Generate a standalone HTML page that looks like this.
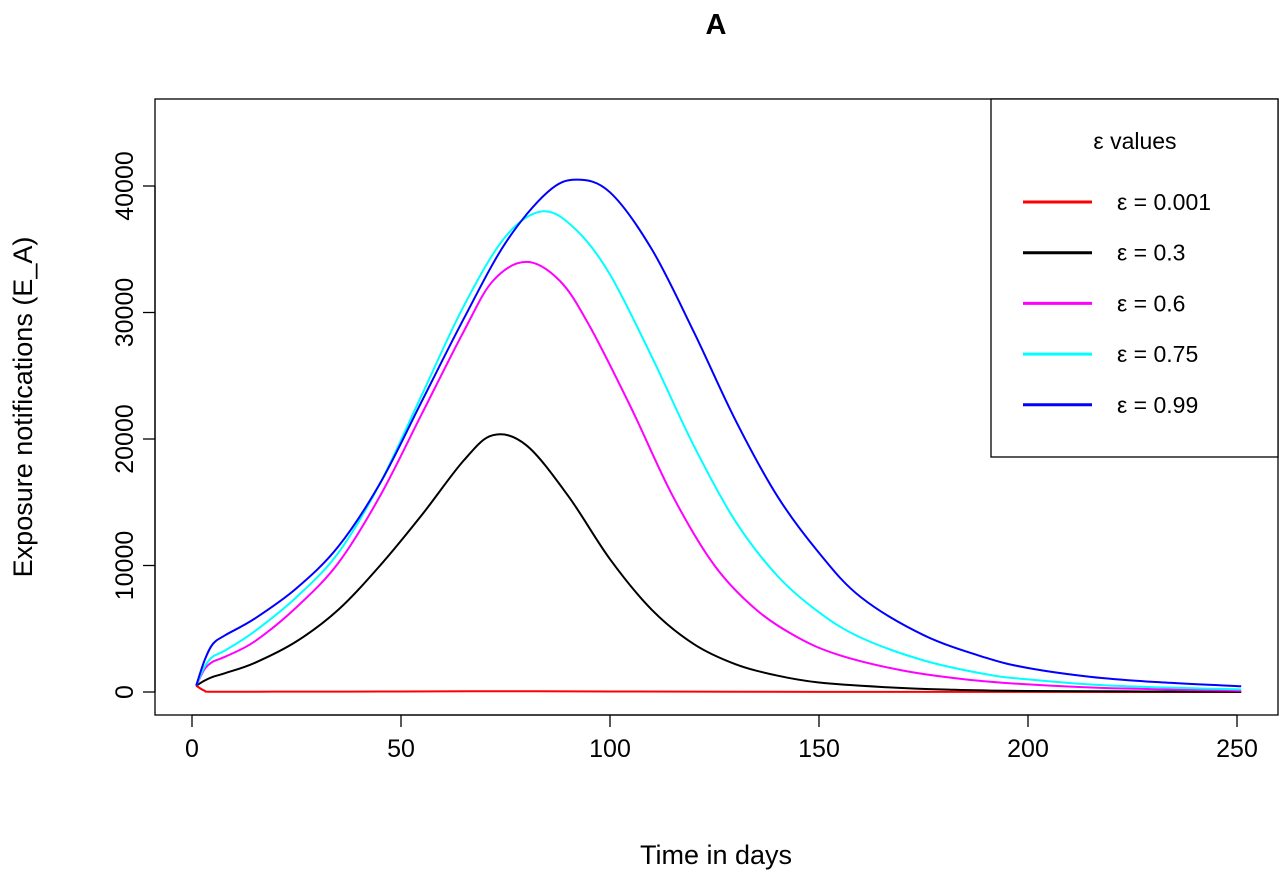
<!DOCTYPE html>
<html><head><meta charset="utf-8"><style>
body{margin:0;background:#fff;}
svg text{font-family:"Liberation Sans",sans-serif;}
</style></head><body>
<svg id="chart" width="1286" height="877" xmlns="http://www.w3.org/2000/svg">
<text x="716" y="34" font-size="29" font-weight="bold" text-anchor="middle">A</text>
<rect x="155" y="99" width="1123" height="616" fill="none" stroke="#000" stroke-width="1.3"/>
<g id="xaxis"></g>
<g id="yaxis"></g>
<text x="716" y="864" font-size="27" text-anchor="middle">Time in days</text>
<text transform="translate(32,407) rotate(-90)" font-size="27" text-anchor="middle">Exposure notifications (E_A)</text>
<g id="lines"></g>
<g>
<rect x="991" y="99" width="287" height="358" fill="#fff" stroke="#000" stroke-width="1.3"/>
<text x="1135" y="149" font-size="23" text-anchor="middle">ε values</text>
<g id="legend-entries"></g>
</g>
</svg>
<script>
const xTicks=[0,50,100,150,200,250];
const yTicks=[0,10000,20000,30000,40000];
const seriesNames=["ε = 0.001","ε = 0.3","ε = 0.6","ε = 0.75","ε = 0.99"];
const seriesColors=["#ff0000","#000000","#ff00ff","#00ffff","#0000ff"];
const redDays=[1,3,5,20,50,75,100,150,200,251];
const redVals=[500,100,20,25,40,60,40,10,5,0];
const blackDays=[1,3,5,8,15,25,35,45,55,65,72,80,90,100,110,120,130,140,150,165,180,200,251];
const blackVals=[500,900,1200,1500,2300,4000,6500,10000,14000,18300,20300,19500,15500,10500,6500,3800,2200,1300,750,400,200,80,20];
const magentaDays=[1,3,5,8,15,25,35,45,55,65,72,80,88,95,105,115,125,135,145,155,170,185,200,220,251];
const magentaVals=[500,1800,2400,2800,4000,6700,10200,15500,22000,28500,32500,34000,32500,29000,22500,15500,10000,6500,4300,2900,1700,1000,600,300,100];
const cyanDays=[1,3,5,8,15,25,35,45,55,65,75,84,92,100,110,120,130,140,150,160,175,190,200,220,251];
const cyanVals=[500,2000,2800,3300,4800,7500,11000,16500,23500,30500,36000,38000,36500,33000,26500,19500,13500,9200,6300,4300,2500,1400,1000,500,200];
const blueDays=[1,3,5,8,15,25,35,45,55,65,75,85,92,100,110,120,130,140,150,160,175,190,200,215,230,251];
const blueVals=[500,2500,3800,4500,5800,8200,11500,16500,23000,29500,35500,39500,40500,39500,35000,28500,21500,15500,11000,7500,4500,2700,1900,1200,800,450];
const allDays=[redDays,blackDays,magentaDays,cyanDays,blueDays];
const allVals=[redVals,blackVals,magentaVals,cyanVals,blueVals];
const NS="http://www.w3.org/2000/svg";
const X=d=>192+d*4.18, Y=v=>692-v*0.01265;
function mk(t,a,p){const e=document.createElementNS(NS,t);for(const k in a)e.setAttribute(k,a[k]);p.appendChild(e);return e;}
const xa=document.getElementById('xaxis');
mk('line',{x1:X(0),x2:X(250),y1:715,y2:715,stroke:'#000','stroke-width':1.3},xa);
xTicks.forEach(t=>{
 const l=mk('line',{x1:X(t),x2:X(t),y1:715,y2:727,stroke:'#000','stroke-width':1.3},xa);
 
 
 const s=mk('text',{x:X(t),y:757,'font-size':25,'text-anchor':'middle'},xa);s.textContent=t;
 
 
});
const ya=document.getElementById('yaxis');
mk('line',{x1:155,x2:155,y1:Y(0),y2:Y(40000),stroke:'#000','stroke-width':1.3},ya);
yTicks.forEach(t=>{
 const l=mk('line',{x1:143,x2:155,y1:Y(t),y2:Y(t),stroke:'#000','stroke-width':1.3},ya);
 
 
 const s=mk('text',{transform:`translate(133,${Y(t)}) rotate(-90)`,'font-size':25,'text-anchor':'middle'},ya);s.textContent=t;
 
 
});
const lg=document.getElementById('lines');
function smooth(pts){let d=`M${pts[0][0]},${pts[0][1]}`;for(let i=0;i<pts.length-1;i++){const p0=pts[i-1]||pts[i],p1=pts[i],p2=pts[i+1],p3=pts[i+2]||p2;
 d+=` C${p1[0]+(p2[0]-p0[0])/6},${p1[1]+(p2[1]-p0[1])/6} ${p2[0]-(p3[0]-p1[0])/6},${p2[1]-(p3[1]-p1[1])/6} ${p2[0]},${p2[1]}`;}return d;}
allDays.forEach((ds,i)=>{
 const pts=ds.map((d,j)=>[X(d),Y(allVals[i][j])]);
 const p=mk('path',{d:smooth(pts),fill:'none',stroke:seriesColors[i],'stroke-width':2},lg);
 
 
});
const le=document.getElementById('legend-entries');
seriesNames.forEach((n,i)=>{
 const y=202+i*50.7;
 const l=mk('line',{x1:1023,x2:1092,y1:y,y2:y,stroke:seriesColors[i],'stroke-width':3},le);
 
 
 const t=mk('text',{x:1117,y:y+8,'font-size':23},le);t.textContent=n;
 
 
});
</script>
</body></html>
